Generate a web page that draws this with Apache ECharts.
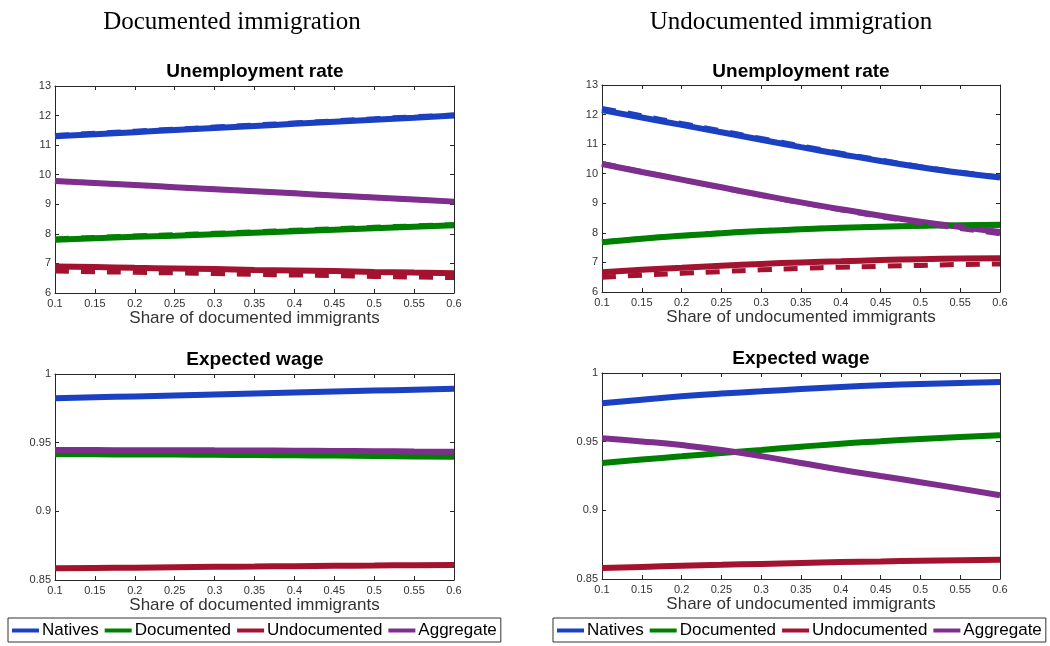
<!DOCTYPE html>
<html>
<head>
<meta charset="utf-8">
<script src="https://cdn.jsdelivr.net/npm/echarts@6/dist/echarts.min.js"></script>
<style>
  html, body { margin: 0; padding: 0; background: #fff; }
  #main { width: 1050px; height: 646px; }
</style>
</head>
<body>
<div id="main"></div>
<script>
// share of immigrants on the x axis
var shares = [0.1, 0.15, 0.2, 0.25, 0.3, 0.35, 0.4, 0.45, 0.5, 0.55, 0.6];
var groupNames = ['Natives', 'Documented', 'Undocumented', 'Aggregate'];

// documented immigration - unemployment rate (solid / dashed)
var unempDocNatives     = [11.30, 11.37, 11.44, 11.51, 11.58, 11.65, 11.72, 11.79, 11.86, 11.93, 12.00];
var unempDocNativesB    = [11.33, 11.40, 11.47, 11.54, 11.61, 11.68, 11.75, 11.82, 11.89, 11.96, 12.02];
var unempDocDocumented  = [7.80, 7.85, 7.90, 7.94, 7.99, 8.04, 8.09, 8.14, 8.19, 8.24, 8.29];
var unempDocDocumentedB = [7.83, 7.88, 7.93, 7.97, 8.02, 8.07, 8.12, 8.17, 8.22, 8.27, 8.31];
var unempDocUndoc       = [6.90, 6.88, 6.85, 6.83, 6.81, 6.78, 6.76, 6.74, 6.71, 6.69, 6.67];
var unempDocUndocB      = [6.74, 6.72, 6.70, 6.68, 6.66, 6.63, 6.61, 6.59, 6.56, 6.54, 6.52];
var unempDocAggregate   = [9.79, 9.72, 9.65, 9.58, 9.51, 9.44, 9.37, 9.30, 9.23, 9.16, 9.09];
var unempDocAggregateB  = [9.79, 9.72, 9.65, 9.58, 9.51, 9.44, 9.37, 9.30, 9.23, 9.16, 9.09];

// undocumented immigration - unemployment rate (solid / dashed)
var unempUndNatives     = [12.15, 11.90, 11.65, 11.40, 11.15, 10.90, 10.66, 10.43, 10.22, 10.03, 9.87];
var unempUndNativesB    = [12.21, 11.96, 11.70, 11.45, 11.19, 10.94, 10.69, 10.46, 10.24, 10.05, 9.89];
var unempUndDocumented  = [7.68, 7.80, 7.90, 7.99, 8.06, 8.12, 8.17, 8.21, 8.24, 8.26, 8.27];
var unempUndDocumentedB = [7.69, 7.81, 7.91, 8.00, 8.07, 8.13, 8.17, 8.21, 8.23, 8.25, 8.26];
var unempUndUndoc       = [6.67, 6.75, 6.82, 6.89, 6.95, 7.00, 7.04, 7.08, 7.11, 7.13, 7.14];
var unempUndUndocB      = [6.50, 6.57, 6.63, 6.69, 6.75, 6.80, 6.84, 6.87, 6.90, 6.93, 6.95];
var unempUndAggregate   = [10.33, 10.06, 9.80, 9.54, 9.28, 9.03, 8.80, 8.58, 8.38, 8.20, 8.03];
var unempUndAggregateB  = [10.35, 10.07, 9.80, 9.53, 9.27, 9.02, 8.78, 8.55, 8.34, 8.15, 7.97];

// documented immigration - expected wage
var wageDocNatives    = [0.9823, 0.9830, 0.9837, 0.9844, 0.9851, 0.9858, 0.9865, 0.9872, 0.9879, 0.9886, 0.9893];
var wageDocDocumented = [0.9416, 0.9415, 0.9414, 0.9413, 0.9412, 0.9410, 0.9408, 0.9406, 0.9403, 0.9400, 0.9397];
var wageDocUndoc      = [0.8585, 0.8588, 0.8590, 0.8593, 0.8596, 0.8598, 0.8601, 0.8603, 0.8605, 0.8608, 0.8610];
var wageDocAggregate  = [0.9446, 0.9446, 0.9445, 0.9445, 0.9444, 0.9443, 0.9442, 0.9440, 0.9438, 0.9436, 0.9434];

// undocumented immigration - expected wage
var wageUndNatives    = [0.9780, 0.9806, 0.9830, 0.9850, 0.9867, 0.9883, 0.9898, 0.9910, 0.9920, 0.9928, 0.9934];
var wageUndDocumented = [0.9345, 0.9370, 0.9393, 0.9417, 0.9440, 0.9463, 0.9485, 0.9503, 0.9520, 0.9534, 0.9546];
var wageUndUndoc      = [0.8580, 0.8588, 0.8596, 0.8603, 0.8610, 0.8617, 0.8623, 0.8628, 0.8633, 0.8637, 0.8640];
var wageUndAggregate  = [0.9525, 0.9502, 0.9475, 0.9440, 0.9395, 0.9345, 0.9295, 0.9250, 0.9205, 0.9158, 0.9110];

var colors = ['#1b40c2', '#008000', '#a3132f', '#7e2f8e'];
var sans = 'Liberation Sans, Arial, sans-serif';
var axisColor = '#262626';

var chart = echarts.init(document.getElementById('main'), null, {renderer: 'canvas'});

// plot boxes: [left, top, width, height]
var boxes = [
    [55, 86, 399, 207],
    [602, 85, 398, 207],
    [55, 374, 399, 206],
    [602, 373, 398, 206]
];
var yRanges = [[6, 13, 1], [6, 13, 1], [0.85, 1, 0.05], [0.85, 1, 0.05]];
var xNames = ['Share of documented immigrants', 'Share of undocumented immigrants',
              'Share of documented immigrants', 'Share of undocumented immigrants'];

function pairs(ys) {
    return shares.map(function (x, i) { return [x, ys[i]]; });
}

var grids = [], xAxes = [], yAxes = [];
boxes.forEach(function (b, i) {
    grids.push({left: b[0], top: b[1], width: b[2], height: b[3], show: false});
    var tick = {show: true, inside: true, length: 4, lineStyle: {color: axisColor}};
    var line = {show: true, onZero: false, lineStyle: {color: axisColor, width: 1}};
    xAxes.push({
        type: 'value', gridIndex: i, position: 'bottom', min: 0.1, max: 0.6, interval: 0.05,
        axisLine: line, axisTick: tick, splitLine: {show: false},
        axisLabel: {show: true, fontSize: 11, color: '#333', fontFamily: sans, margin: 5},
        name: xNames[i], nameLocation: 'middle', nameGap: 16,
        nameTextStyle: {fontSize: 17, color: '#333', fontFamily: sans}
    });
    yAxes.push({
        type: 'value', gridIndex: i, position: 'left',
        min: yRanges[i][0], max: yRanges[i][1], interval: yRanges[i][2],
        axisLine: line, axisTick: tick, splitLine: {show: false},
        axisLabel: {show: true, fontSize: 11, color: '#333', fontFamily: sans, margin: 4}
    });
});
// mirrored top / right axes for the closed box with inner ticks
boxes.forEach(function (b, i) {
    var tick = {show: true, inside: true, length: 4, lineStyle: {color: axisColor}};
    var line = {show: true, onZero: false, lineStyle: {color: axisColor, width: 1}};
    xAxes.push({
        type: 'value', gridIndex: i, position: 'top', min: 0.1, max: 0.6, interval: 0.05,
        axisLine: line, axisTick: tick, axisLabel: {show: false}, splitLine: {show: false}
    });
    yAxes.push({
        type: 'value', gridIndex: i, position: 'right',
        min: yRanges[i][0], max: yRanges[i][1], interval: yRanges[i][2],
        axisLine: line, axisTick: tick, axisLabel: {show: false}, splitLine: {show: false}
    });
});

var panels = [
    {solid: [unempDocNatives, unempDocDocumented, unempDocUndoc, unempDocAggregate],
     dashed: [unempDocNativesB, unempDocDocumentedB, unempDocUndocB, unempDocAggregateB]},
    {solid: [unempUndNatives, unempUndDocumented, unempUndUndoc, unempUndAggregate],
     dashed: [unempUndNativesB, unempUndDocumentedB, unempUndUndocB, unempUndAggregateB]},
    {solid: [wageDocNatives, wageDocDocumented, wageDocUndoc, wageDocAggregate], dashed: []},
    {solid: [wageUndNatives, wageUndDocumented, wageUndUndoc, wageUndAggregate], dashed: []}
];

var series = [];
panels.forEach(function (p, i) {
    p.solid.forEach(function (ys, k) {
        series.push({
            name: groupNames[k], type: 'line', xAxisIndex: i, yAxisIndex: i,
            data: pairs(ys), symbol: 'none', smooth: true, silent: true,
            lineStyle: {color: colors[k], width: 6, type: 'solid'},
            itemStyle: {color: colors[k]}
        });
    });
    p.dashed.forEach(function (ys, k) {
        series.push({
            name: groupNames[k], type: 'line', xAxisIndex: i, yAxisIndex: i,
            data: pairs(ys), symbol: 'none', smooth: true, silent: true,
            lineStyle: {color: colors[k], width: 5, type: [14, 12]},
            itemStyle: {color: colors[k]}
        });
    });
});

function legendAt(left) {
    return {
        show: true, orient: 'horizontal', left: left, top: 618,
        data: groupNames, icon: 'rect', itemWidth: 27, itemHeight: 4, itemGap: 6,
        padding: [4, 4, 3, 4], borderColor: '#333', borderWidth: 1, selectedMode: false,
        textStyle: {fontSize: 17, color: '#000', fontFamily: sans, padding: [0, 0, 0, -2]}
    };
}

function label(x, y, text, font) {
    return {
        type: 'text', x: x, y: y, silent: true,
        style: {text: text, font: font, fill: '#000', align: 'center', verticalAlign: 'middle'}
    };
}

var option = {
    animation: false,
    backgroundColor: '#fff',
    grid: grids,
    xAxis: xAxes,
    yAxis: yAxes,
    legend: [legendAt(8), legendAt(553)],
    graphic: [
        label(232, 22, 'Documented immigration', '25px "Liberation Serif", serif'),
        label(791, 22, 'Undocumented immigration', '25px "Liberation Serif", serif'),
        label(255, 72, 'Unemployment rate', 'bold 19px ' + sans),
        label(801, 72, 'Unemployment rate', 'bold 19px ' + sans),
        label(255, 360, 'Expected wage', 'bold 19px ' + sans),
        label(801, 359, 'Expected wage', 'bold 19px ' + sans)
    ],
    series: series
};
chart.setOption(option);
</script>
</body>
</html>
